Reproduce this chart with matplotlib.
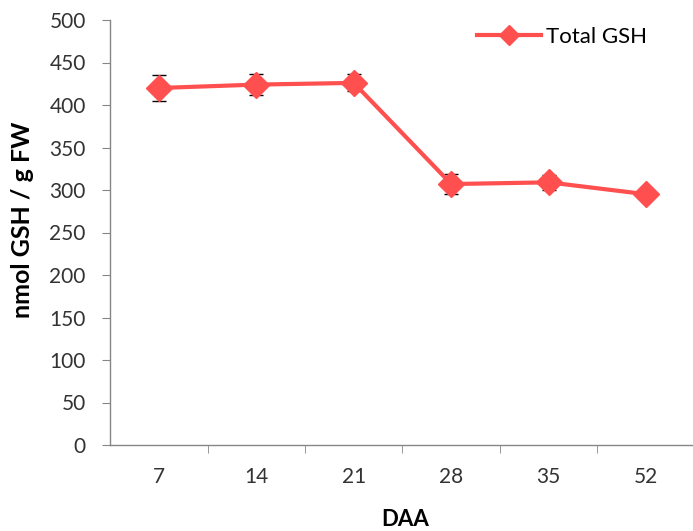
import matplotlib
matplotlib.use("Agg")
import matplotlib.pyplot as plt
import numpy as np

categories = ["7", "14", "21", "28", "35", "52"]
values = [420, 424, 426, 307, 309, 295]
errors = [15, 12.5, 10, 12, 9, 6]
yticks = [0, 50, 100, 150, 200, 250, 300, 350, 400, 450, 500]

plt.rcParams['font.family'] = ['Lato', 'DejaVu Sans']

W, H = 693, 531
fig = plt.figure(figsize=(W/100, H/100), dpi=100)
ax = fig.add_axes([110/W, 1-445/H, (695-110)/W, (445-20)/H])

red = "#FF4F4F"
x = np.arange(len(categories))
ax.errorbar(x, values, yerr=errors, fmt='none', ecolor='black', elinewidth=1, capsize=5, capthick=1, zorder=2)
ax.plot(x, values, color=red, lw=3, marker='D', markersize=13, label='Total GSH', zorder=3)

ax.set_xlim(-0.5, len(categories)-0.5)
ax.set_ylim(0, 500)
ax.set_yticks(yticks)
ax.set_xticks(x)
ax.set_xticklabels(categories)
ax.set_xticks(np.arange(0.5, len(categories)-0.5, 1), minor=True)
ax.tick_params(axis='x', which='major', length=0, pad=16, labelsize=15, labelcolor='#333333')
ax.tick_params(axis='x', which='minor', length=6, direction='out', color='#868686')
ax.tick_params(axis='y', length=5.5, direction='out', color='#868686', labelsize=15, labelcolor='#333333', pad=12)

for s in ['top', 'right']:
    ax.spines[s].set_visible(False)
for s in ['left', 'bottom']:
    ax.spines[s].set_color('#868686')
    ax.spines[s].set_linewidth(1)

fig.text(23/W, 1-220/H, 'nmol GSH / g FW', fontsize=18, fontweight='bold', rotation=90,
         ha='center', va='center', color='black')
fig.text(405/W, 1-519.5/H, 'DAA', fontsize=16, fontweight='bold', ha='center', va='center', color='black')

leg = ax.legend(loc='upper right', bbox_to_anchor=(0.952, 1.03), frameon=False, fontsize=16,
                handlelength=2.9, handletextpad=0.2, markerscale=0.75)

fig.savefig('out.png', dpi=100)
